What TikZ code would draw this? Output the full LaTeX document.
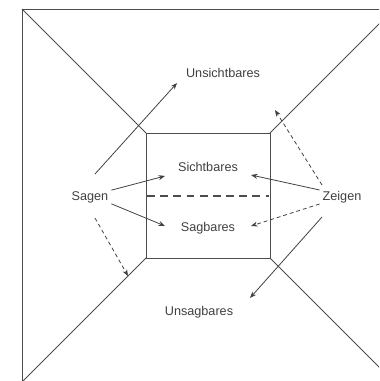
\documentclass[tikz,border=0pt]{standalone}
\usepackage{fontspec}
\setmainfont{Liberation Sans}
\usetikzlibrary{arrows.meta,positioning}

\begin{document}
\begin{tikzpicture}[
    x=0.02cm, y=-0.02cm,
    frame/.style={draw=black!70, line width=0.55pt},
    lbl/.style={text=black!75, font=\fontsize{7.2}{9}\selectfont, inner sep=1pt},
    arr/.style={-{Stealth[length=1.3mm, width=1mm]}, draw=black!75, line width=0.45pt},
    darr/.style={arr, dash pattern=on 2.2pt off 1.7pt},
]
  \useasboundingbox (0,0) rectangle (379,381);
  \clip (0,0) rectangle (379,381);

  % outer and inner frame
  \coordinate (o1) at (22,9);
  \coordinate (o2) at (394,9);
  \coordinate (o3) at (394,382);
  \coordinate (o4) at (22,382);
  \coordinate (i1) at (146,133);
  \coordinate (i2) at (270,133);
  \coordinate (i3) at (270,258);
  \coordinate (i4) at (146,258);
  \draw[frame] (o1) -- (o2) -- (o3) -- (o4) -- cycle;
  \draw[frame] (i1) -- (i2) -- (i3) -- (i4) -- cycle;
  \draw[frame] (o1) -- (i1) (o2) -- (i2) (o3) -- (i3) (o4) -- (i4);
  \coordinate (m1) at (147,196);
  \coordinate (m2) at (269,196);
  \draw[frame, line width=1.1pt, dash pattern=on 4.5pt off 3pt] (m1) -- (m2);

  % labels
  \node[lbl] (unsicht) at (223,73)  {Unsichtbares};
  \node[lbl] (sicht)   at (208,167) {Sichtbares};
  \node[lbl] (sagbar)  at (208,228) {Sagbares};
  \node[lbl] (unsag)   at (199,312) {Unsagbares};
  \node[lbl] (sagen)   at (90,197)  {Sagen};
  \node[lbl] (zeigen)  at (342,197) {Zeigen};

  % arrow ends
  \coordinate (s1) at (95,174);
  \coordinate (t1) at (177,83);
  \coordinate (s4) at (95,218);
  \coordinate (t4) at (128,276);
  \coordinate (z3) at (322,185);
  \coordinate (t3) at (275,110);
  \coordinate (z4) at (322,217);
  \coordinate (t5) at (250,298);

  \draw[arr]  (s1) -- (t1);
  \draw[arr]  (sagen.north east) ++(1,1) -- (165,176);
  \draw[arr]  (sagen.south east) ++(1,-1) -- (165,226);
  \draw[darr] (s4) -- (t4);
  \draw[arr]  (zeigen.north west) ++(-1,1) -- (251,175);
  \draw[darr] (zeigen.south west) ++(-1,-1) -- (251,226);
  \draw[darr] (z3) -- (t3);
  \draw[arr]  (z4) -- (t5);
\end{tikzpicture}
\end{document}
